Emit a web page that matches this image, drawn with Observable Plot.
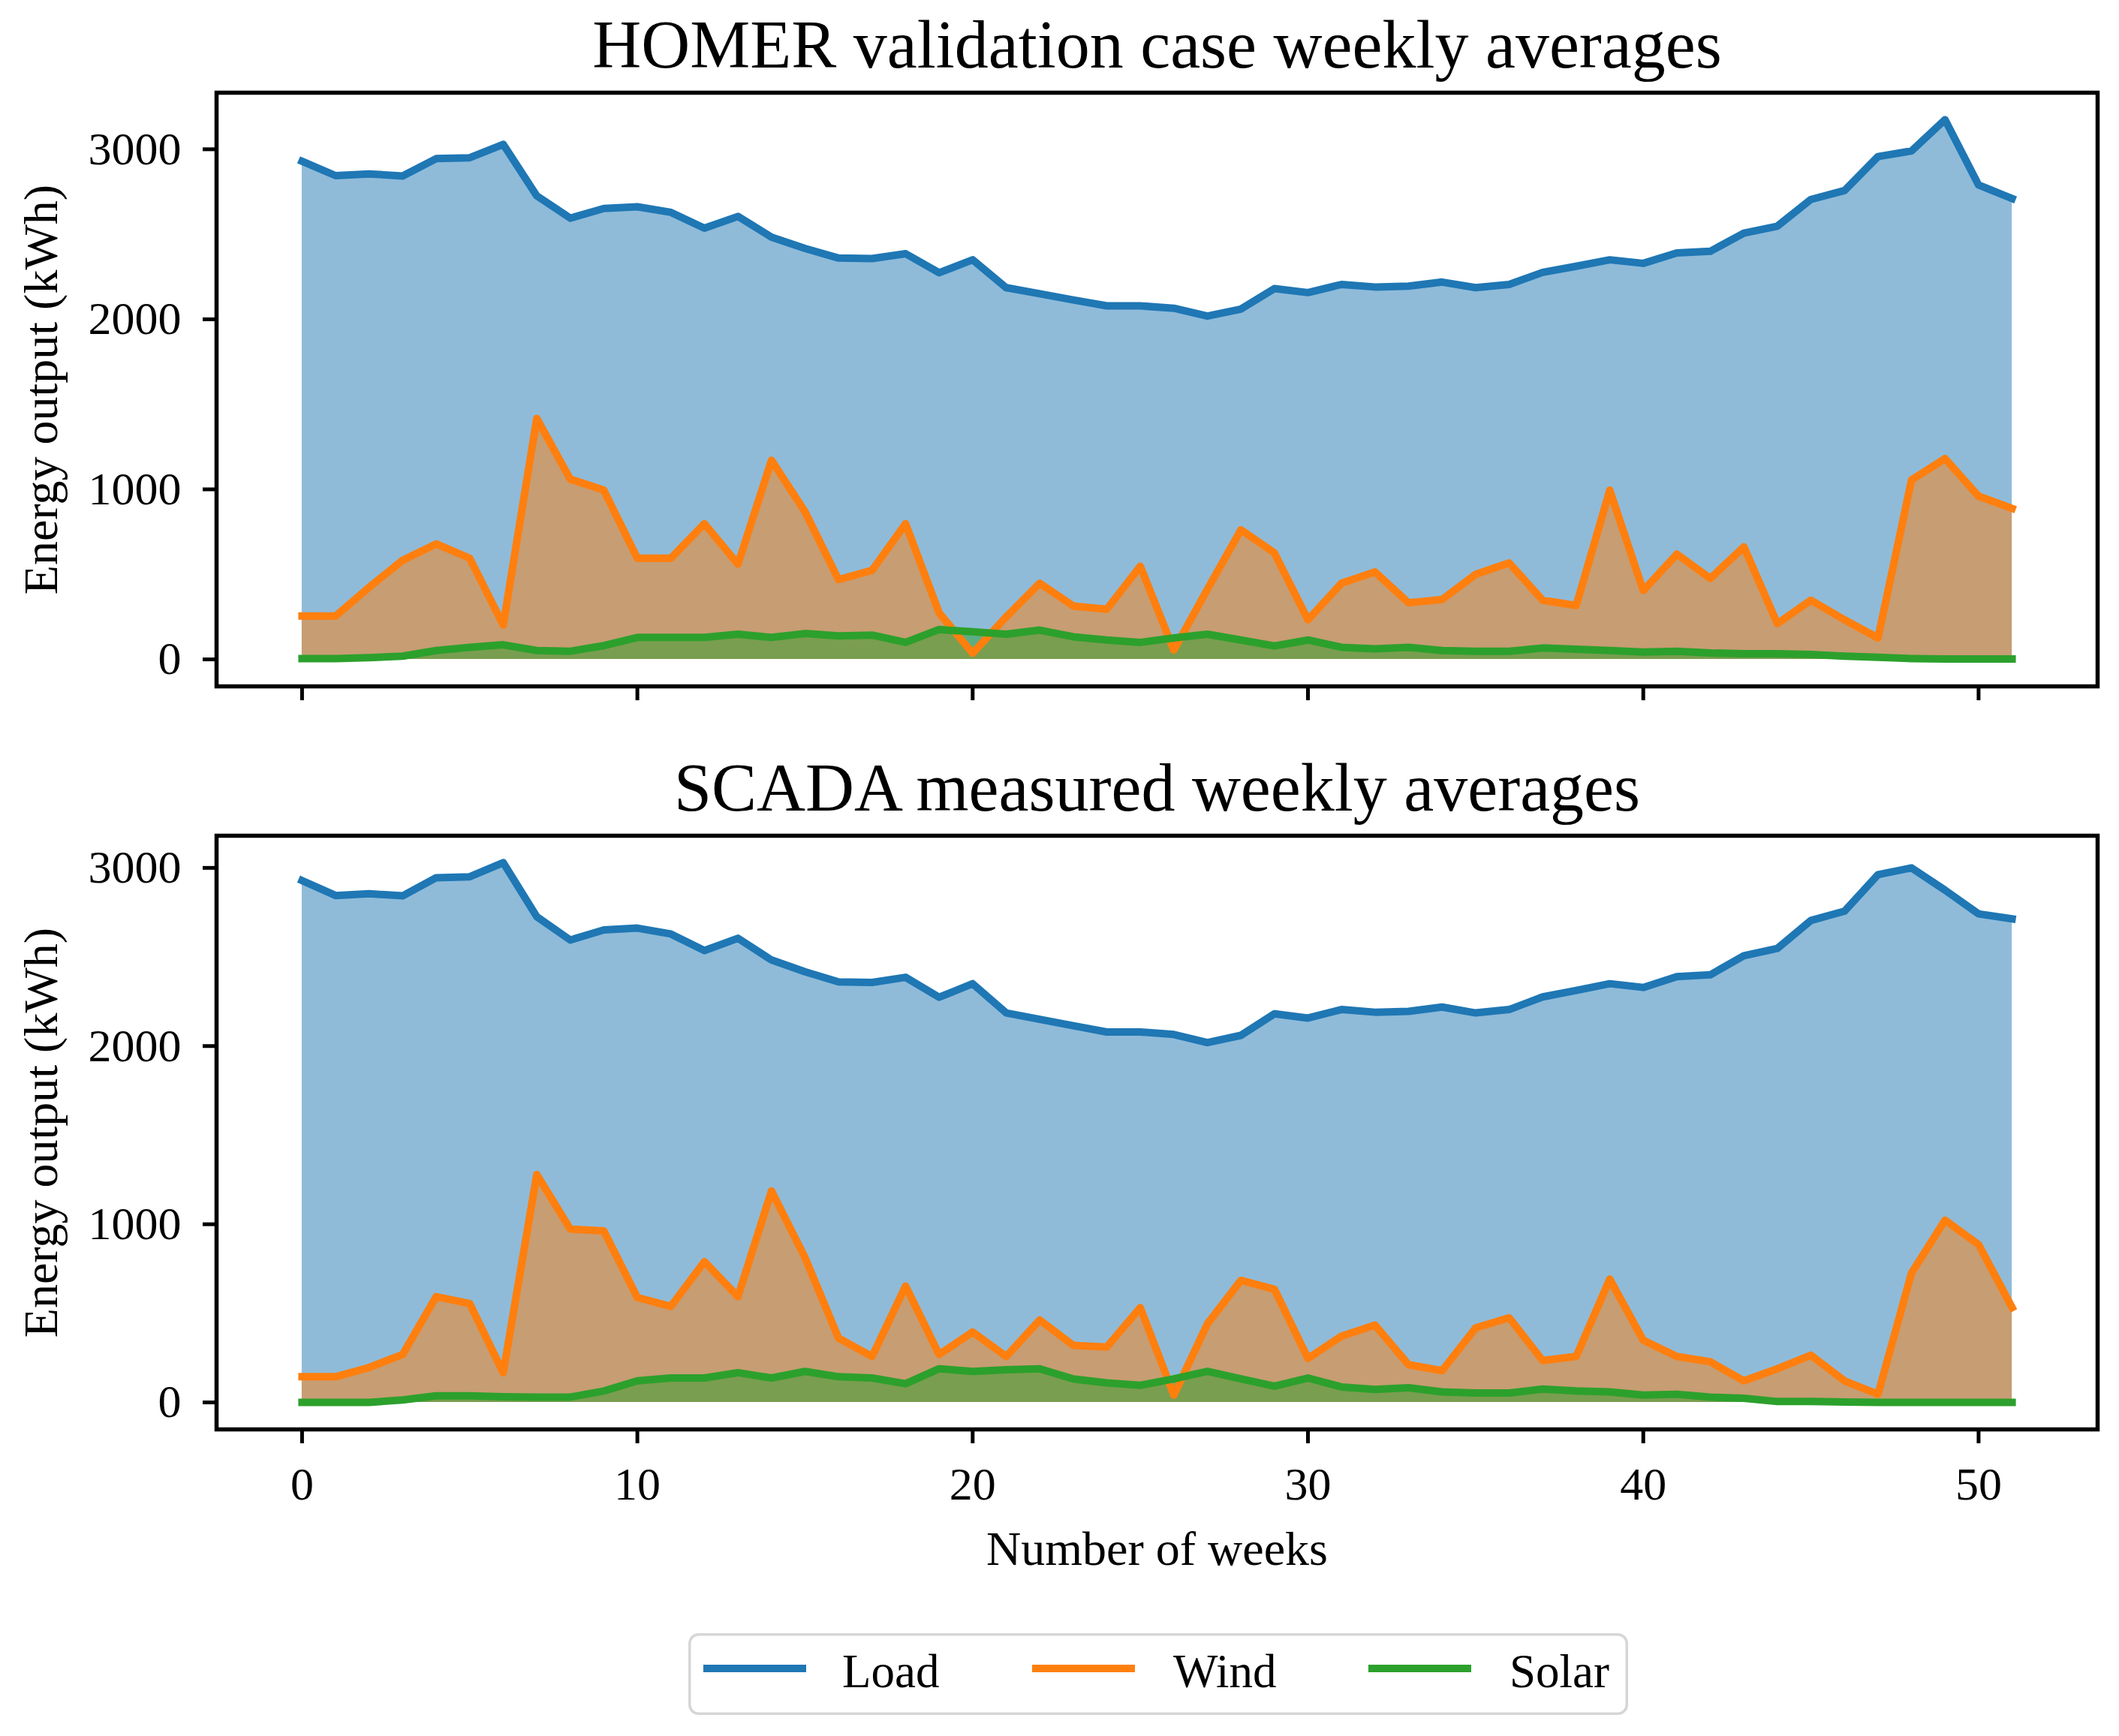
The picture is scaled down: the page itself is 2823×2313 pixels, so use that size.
<!DOCTYPE html>
<html><head><meta charset="utf-8">
<script src="https://cdn.jsdelivr.net/npm/d3@7"></script>
<script src="https://cdn.jsdelivr.net/npm/@observablehq/plot@0.6"></script>
<style>
html,body{margin:0;padding:0;background:#fff;}
#fig{position:relative;width:2823px;height:2313px;background:#fff;font-family:"Liberation Serif","Times New Roman",serif;}
#top,#bottom,#legend{position:absolute;left:0;}
#top{top:0;}
#bottom{top:1000px;}
#legend{left:917px;top:2176px;}
svg{overflow:visible;}
</style></head><body>
<div id="fig"><div id="top"></div><div id="bottom"></div><div id="legend"></div></div>
<script>
const weeks = d3.range(52);
const homerLoad = [2929, 2845, 2855, 2843, 2945, 2950, 3029, 2726, 2595, 2652, 2662, 2629, 2536, 2605, 2483, 2417, 2360, 2357, 2386, 2274, 2350, 2186, 2150, 2114, 2079, 2079, 2065, 2019, 2060, 2181, 2157, 2205, 2190, 2195, 2219, 2186, 2205, 2276, 2312, 2350, 2329, 2390, 2400, 2507, 2548, 2705, 2757, 2957, 2990, 3174, 2790, 2710];
const homerWind = [255, 255, 424, 583, 679, 595, 202, 1417, 1060, 995, 595, 595, 798, 560, 1171, 869, 469, 524, 798, 274, 36, 250, 448, 314, 295, 548, 55, 412, 762, 626, 233, 448, 514, 333, 352, 500, 567, 348, 317, 995, 405, 619, 476, 662, 210, 348, 233, 126, 1055, 1181, 960, 888];
const homerSolar = [5, 5, 10, 19, 52, 71, 86, 52, 48, 81, 129, 129, 129, 148, 129, 152, 138, 143, 100, 176, 162, 148, 172, 133, 114, 100, 126, 148, 114, 79, 114, 71, 62, 71, 52, 48, 48, 67, 60, 52, 43, 48, 38, 33, 33, 29, 19, 12, 5, 2, 2, 2];
const scadaLoad = [2929, 2845, 2855, 2843, 2945, 2950, 3029, 2726, 2595, 2652, 2662, 2629, 2536, 2605, 2483, 2417, 2360, 2357, 2386, 2274, 2350, 2186, 2150, 2114, 2079, 2079, 2065, 2019, 2060, 2181, 2157, 2205, 2190, 2195, 2219, 2186, 2205, 2276, 2312, 2350, 2329, 2390, 2400, 2507, 2548, 2705, 2757, 2962, 3000, 2875, 2742, 2714];
const scadaWind = [144, 144, 196, 269, 594, 555, 167, 1279, 973, 963, 589, 539, 790, 594, 1187, 813, 361, 258, 653, 269, 395, 258, 463, 320, 311, 532, 41, 441, 685, 635, 247, 372, 434, 212, 178, 418, 475, 235, 258, 692, 349, 258, 228, 121, 189, 265, 121, 46, 726, 1023, 886, 532];
const scadaSolar = [0, 0, 0, 14, 37, 37, 32, 30, 30, 64, 121, 137, 137, 167, 137, 174, 144, 137, 105, 189, 174, 183, 189, 132, 110, 96, 132, 174, 132, 91, 137, 87, 73, 82, 59, 53, 53, 75, 64, 59, 41, 46, 30, 23, 5, 5, 2, 0, 0, 0, 0, 0];

const xTicks = [0, 10, 20, 30, 40, 50];
const yTicks = [0, 1000, 2000, 3000];
const seriesKeys = ["load", "wind", "solar"];
const seriesNames = ["Load", "Wind", "Solar"];
const seriesColors = ["#1f77b4", "#ff7f0e", "#2ca02c"];
const titles = ["HOMER validation case weekly averages", "SCADA measured weekly averages"];
const yLabel = "Energy output (kWh)";
const xLabel = "Number of weeks";

const FONT = "Liberation Serif, Times New Roman, serif";

function panel({load, wind, solar, title, showXLabels, height, marginTop, marginBottom}) {
  const rows = weeks.map((w, i) => ({week: w, load: load[i], wind: wind[i], solar: solar[i]}));
  const xmin = d3.min(weeks), xmax = d3.max(weeks), xpad = 0.05 * (xmax - xmin);
  const ymin = 0, ymax = d3.max([...load, ...wind, ...solar]), ypad = 0.05 * (ymax - ymin);
  const marks = [];
  seriesKeys.forEach((k, i) => marks.push(Plot.areaY(rows, {x: "week", y: k, fill: seriesColors[i], fillOpacity: 0.5})));
  seriesKeys.forEach((k, i) => marks.push(Plot.lineY(rows, {x: "week", y: k, stroke: seriesColors[i], strokeWidth: 10, strokeLinecap: "square", strokeLinejoin: "round"})));
  marks.push(Plot.frame({stroke: "black", strokeWidth: 5.5}));
  marks.push(Plot.axisY({ticks: yTicks, tickSize: 18, tickPadding: 29, fontSize: 62, strokeWidth: 5, label: null, tickFormat: d => String(d)}));
  marks.push(Plot.axisX({ticks: xTicks, tickSize: 19, tickPadding: 30, fontSize: 62, strokeWidth: 5, label: null, tickFormat: showXLabels ? (d => String(d)) : (() => "")}));
  marks.push(Plot.text([title], {text: d => d, frameAnchor: "top", dy: -97, lineAnchor: "top", textAnchor: "middle", fontSize: 90, fill: "black"}));
  marks.push(Plot.text([yLabel], {text: d => d, frameAnchor: "left", dx: -233, rotate: -90, textAnchor: "middle", lineAnchor: "middle", fontSize: 64, fill: "black"}));
  if (showXLabels) marks.push(Plot.text([xLabel], {text: d => d, frameAnchor: "bottom", dy: 135, lineAnchor: "top", textAnchor: "middle", fontSize: 64, fill: "black"}));
  return Plot.plot({
    width: 2823, height, marginLeft: 288, marginRight: 29, marginTop, marginBottom,
    style: {fontFamily: FONT, background: "white", overflow: "visible"},
    x: {domain: [xmin - xpad, xmax + xpad]},
    y: {domain: [ymin - ypad, ymax + ypad]},
    marks
  });
}

document.getElementById("top").append(panel({load: homerLoad, wind: homerWind, solar: homerSolar, title: titles[0], showXLabels: false, height: 1000, marginTop: 123, marginBottom: 86}));
document.getElementById("bottom").append(panel({load: scadaLoad, wind: scadaWind, solar: scadaSolar, title: titles[1], showXLabels: true, height: 1150, marginTop: 113, marginBottom: 246}));

// legend
const lg = d3.select("#legend").append("svg").attr("width", 1252).attr("height", 109);
lg.append("rect").attr("x", 1.75).attr("y", 1.75).attr("width", 1248.5).attr("height", 105.5).attr("rx", 12)
  .attr("fill", "white").attr("stroke", "#d6d6d6").attr("stroke-width", 3.5);
const swatchX = [20, 458, 906];
const textX = [205, 646, 1094];
seriesNames.forEach((n, i) => {
  lg.append("line").attr("x1", swatchX[i]).attr("x2", swatchX[i] + 137).attr("y1", 47).attr("y2", 47)
    .attr("stroke", seriesColors[i]).attr("stroke-width", 10);
  lg.append("text").attr("x", textX[i]).attr("y", 72).attr("font-size", 63).attr("font-family", FONT).attr("fill", "black").text(n);
});
</script>
</body></html>
